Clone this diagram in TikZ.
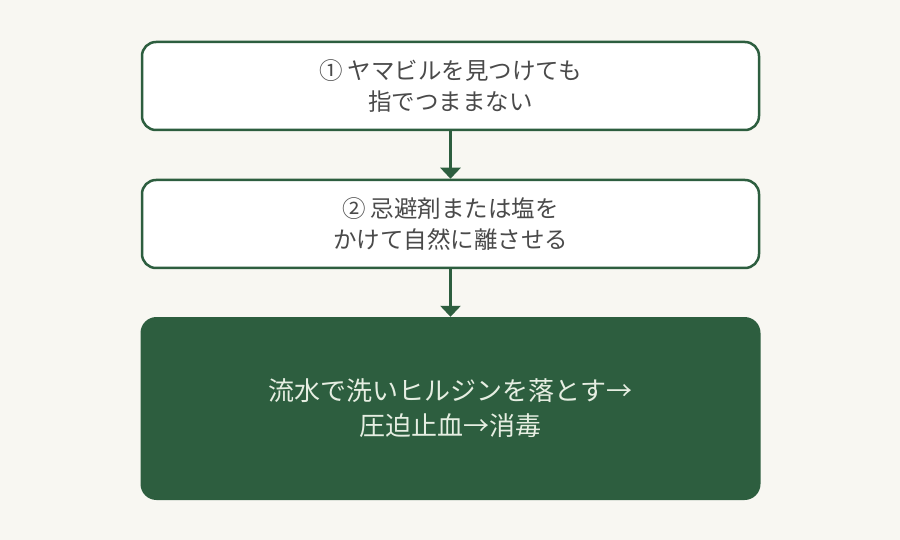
\documentclass[tikz,border=0pt]{standalone}
\usepackage{fontspec}
\setmainfont{Noto Sans CJK JP}
\usetikzlibrary{arrows.meta}
\definecolor{bg}{HTML}{F8F7F2}
\definecolor{grn}{HTML}{2D5E3F}
\definecolor{txt}{HTML}{4A4A4A}
\definecolor{ltxt}{HTML}{E6EEE2}
\tikzset{
  stepbox/.style={draw=grn, line width=2.5pt, fill=white, rounded corners=14pt,
    minimum width=617pt, minimum height=88pt, align=center, text=txt,
    font=\fontsize{23.5}{31.5}\selectfont, inner sep=0pt},
  finalbox/.style={fill=grn, draw=none, rounded corners=16pt,
    minimum width=620pt, minimum height=183pt, align=center, text=ltxt,
    font=\fontsize{26}{35}\selectfont, inner sep=0pt},
  flow/.style={draw=grn, line width=3pt, -{Triangle[width=20pt,length=11pt]}}
}
\begin{document}
\begin{tikzpicture}[x=1pt,y=-1pt]
\useasboundingbox (0,0) rectangle (900,540);
\fill[bg] (0,0) rectangle (900,540);
\node[stepbox] (s1) at (450.5,86) {① ヤマビルを見つけても\\指でつままない};
\node[stepbox] (s2) at (450.5,224) {② 忌避剤または塩を\\かけて自然に離させる};
\node[finalbox] (s3) at (450.5,408.5) {流水で洗いヒルジンを落とす→\\圧迫止血→消毒};
\draw[flow] (s1.south) -- (s2.north);
\draw[flow] (s2.south) -- (s3.north);
\end{tikzpicture}
\end{document}
